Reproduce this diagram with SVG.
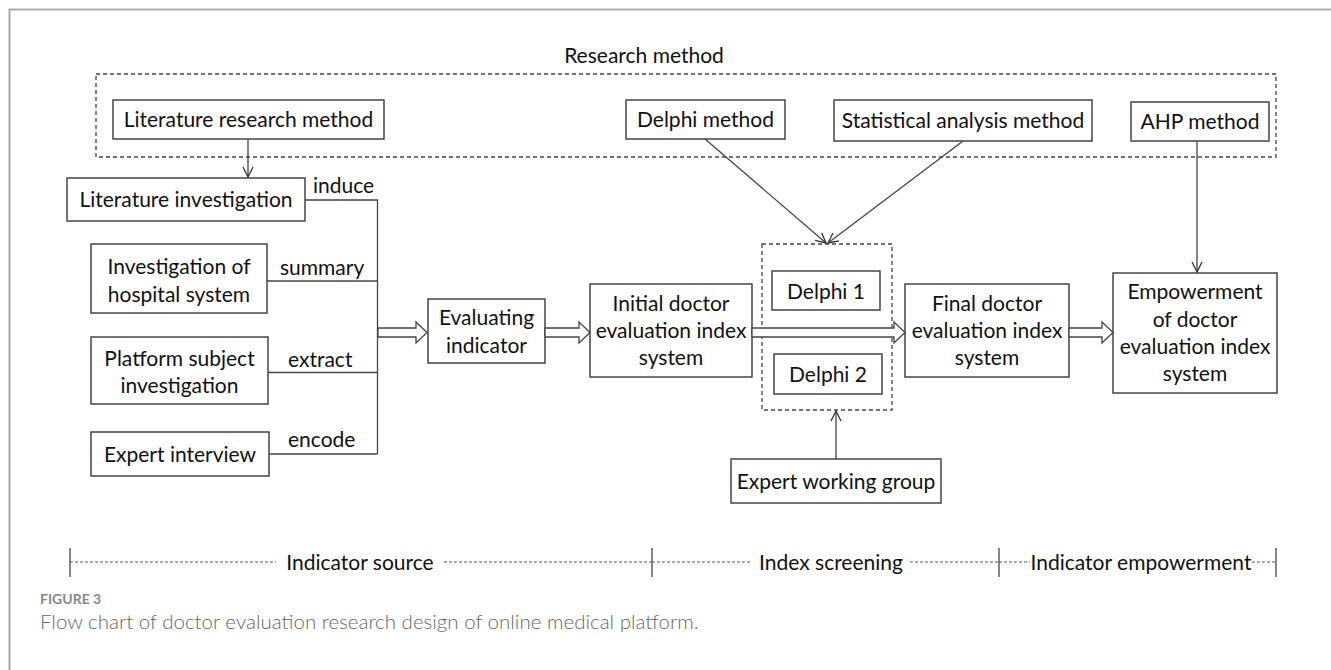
<svg xmlns="http://www.w3.org/2000/svg" width="1331" height="670" viewBox="0 0 1331 670">
<defs>
<marker id="v" viewBox="0 0 12 12" refX="11" refY="6" markerWidth="12" markerHeight="12" markerUnits="userSpaceOnUse" orient="auto">
<path d="M1,1 L11,6 L1,11" fill="none" stroke="#333" stroke-width="1.3"/>
</marker>
<style>
.b{fill:#fff;stroke:#444;stroke-width:1.5}
.d{fill:none;stroke:#444;stroke-width:1.3;stroke-dasharray:4,3}
.t{font-family:Lato,"Liberation Sans",sans-serif;font-size:21px;fill:#111;text-anchor:middle}
.l{font-family:Lato,"Liberation Sans",sans-serif;font-size:21px;fill:#111}
.c{fill:none;stroke:#444;stroke-width:1.3}
.a{fill:none;stroke:#444;stroke-width:1.3;marker-end:url(#v)}
.h{fill:#fff;stroke:#444;stroke-width:1.3}
.tl{fill:none;stroke:#555;stroke-width:1;stroke-dasharray:3,2}
.tk{stroke:#444;stroke-width:1.3}
</style>
</defs>
<rect width="1331" height="670" fill="#fff"/>
<path d="M9.5,670 V9.5 H1331" fill="none" stroke="#aaa" stroke-width="2"/>

<g id="research-method">
<rect class="d" x="96" y="74" width="1180" height="83"/>
<text class="t" x="644" y="63">Research method</text>
</g>
<g id="lit-method"><rect class="b" x="113" y="100" width="271" height="39"/><text class="t" x="248.5" y="127">Literature research method</text></g>
<g id="delphi-method"><rect class="b" x="626" y="100" width="159" height="39"/><text class="t" x="705.5" y="127">Delphi method</text></g>
<g id="stat-method"><rect class="b" x="834" y="100" width="258" height="41"/><text class="t" x="963" y="128">Statistical analysis method</text></g>
<g id="ahp-method"><rect class="b" x="1131" y="102" width="138" height="39"/><text class="t" x="1200" y="129">AHP method</text></g>

<g id="lit-invest"><rect class="b" x="67" y="178" width="238" height="43"/><text class="t" x="186" y="207">Literature investigation</text></g>
<g id="hosp-invest"><rect class="b" x="91" y="244" width="176" height="69"/><text class="t" x="179" y="274">Investigation of</text><text class="t" x="179" y="302">hospital system</text></g>
<g id="plat-invest"><rect class="b" x="91" y="337" width="177" height="67"/><text class="t" x="179.5" y="366">Platform subject</text><text class="t" x="179.5" y="393">investigation</text></g>
<g id="expert-interview"><rect class="b" x="91" y="432" width="178" height="44"/><text class="t" x="180" y="462">Expert interview</text></g>

<g id="eval-indicator"><rect class="b" x="428" y="299" width="117" height="64"/><text class="t" x="486.5" y="325">Evaluating</text><text class="t" x="486.5" y="353">indicator</text></g>
<g id="initial-system"><rect class="b" x="590" y="284" width="162" height="93"/><text class="t" x="671" y="311">Initial doctor</text><text class="t" x="671" y="338">evaluation index</text><text class="t" x="671" y="365">system</text></g>

<g id="delphi-group"><rect class="d" x="762" y="244" width="130" height="166"/></g>
<g id="delphi1"><rect class="b" x="772" y="271" width="108" height="39"/><text class="t" x="826" y="299">Delphi 1</text></g>
<g id="delphi2"><rect class="b" x="774" y="354" width="108" height="40"/><text class="t" x="828" y="382">Delphi 2</text></g>

<g id="final-system"><rect class="b" x="905" y="284" width="164" height="93"/><text class="t" x="987" y="311">Final doctor</text><text class="t" x="987" y="338">evaluation index</text><text class="t" x="987" y="365">system</text></g>
<g id="empower-system"><rect class="b" x="1113" y="273" width="164" height="120"/><text class="t" x="1195" y="299">Empowerment</text><text class="t" x="1195" y="327">of doctor</text><text class="t" x="1195" y="354">evaluation index</text><text class="t" x="1195" y="381">system</text></g>

<g id="expert-group"><rect class="b" x="731" y="459" width="210" height="44"/><text class="t" x="836" y="489">Expert working group</text></g>

<g id="connectors">
<line class="a" x1="248" y1="139" x2="248" y2="177"/>
<path class="c" d="M305,200 H377.5 V454 M267,281 H377.5 M268,372.5 H377.5 M269,454 H377.5"/>
<text class="l" x="313" y="193">induce</text>
<text class="l" x="280" y="275">summary</text>
<text class="l" x="288" y="367">extract</text>
<text class="l" x="288" y="447">encode</text>
<polygon class="h" points="378,328 416,328 416,322 427,332.5 416,343 416,337 378,337"/>
<polygon class="h" points="545,328 579,328 579,322 590,332.5 579,343 579,337 545,337"/>
<polygon class="h" points="752,328 894,328 894,322 905,332.5 894,343 894,337 752,337"/>
<polygon class="h" points="1069,328 1102,328 1102,322 1113,332.5 1102,343 1102,337 1069,337"/>
<line class="a" x1="705" y1="139" x2="826" y2="243"/>
<line class="a" x1="963" y1="141" x2="828" y2="243"/>
<line class="a" x1="1197" y1="141" x2="1197" y2="272"/>
<line class="a" x1="836" y1="459" x2="836" y2="411"/>
</g>

<g id="timeline">
<line class="tk" x1="70" y1="548" x2="70" y2="577"/>
<line class="tk" x1="652" y1="548" x2="652" y2="577"/>
<line class="tk" x1="999" y1="548" x2="999" y2="577"/>
<line class="tk" x1="1276" y1="548" x2="1276" y2="577"/>
<line class="tl" x1="70" y1="562" x2="276" y2="562"/>
<line class="tl" x1="444" y1="562" x2="652" y2="562"/>
<line class="tl" x1="652" y1="562" x2="752" y2="562"/>
<line class="tl" x1="910" y1="562" x2="999" y2="562"/>
<line class="tl" x1="999" y1="562" x2="1030" y2="562"/>
<line class="tl" x1="1252" y1="562" x2="1276" y2="562"/>
<text class="t" x="360" y="570">Indicator source</text>
<text class="t" x="831" y="570">Index screening</text>
<text class="t" x="1141" y="570">Indicator empowerment</text>
</g>

<g id="caption">
<text x="40" y="604" font-family="Lato,'Liberation Sans',sans-serif" font-size="14" font-weight="bold" fill="#888">FIGURE 3</text>
<text x="40" y="629" font-family="Lato,'Liberation Sans',sans-serif" font-size="20.5" font-weight="300" fill="#666">Flow chart of doctor evaluation research design of online medical platform.</text>
</g>
</svg>
